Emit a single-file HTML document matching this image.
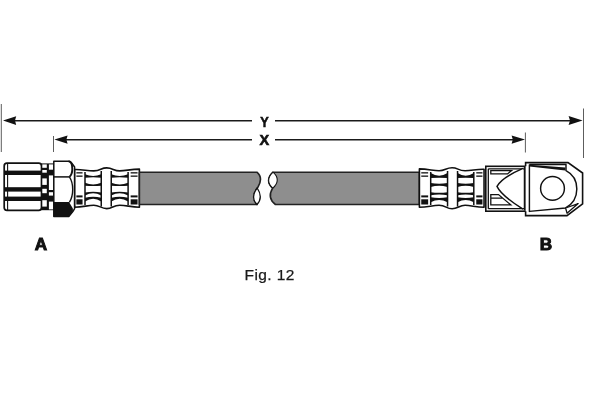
<!DOCTYPE html>
<html lang="en">
<head>
<meta charset="utf-8">
<title>Fig. 12</title>
<style>
html,body{margin:0;padding:0;background:#fff;}
body{width:600px;height:400px;overflow:hidden;font-family:"Liberation Sans",sans-serif;}
svg{display:block;}
</style>
</head>
<body>
<svg width="600" height="400" viewBox="0 0 600 400">
<rect width="600" height="400" fill="#fff"/>
<g stroke="#333" stroke-width="0.8" fill="none">
<line x1="1.3" y1="104" x2="1.3" y2="152"/>
<line x1="583.5" y1="108.5" x2="583.5" y2="158"/>
<line x1="53.5" y1="136" x2="53.5" y2="152"/>
<line x1="525.4" y1="132.5" x2="525.4" y2="152.5"/>
</g>
<g stroke="#1a1a1a" stroke-width="1.4" fill="none">
<line x1="14" y1="120.8" x2="252" y2="120.8"/>
<line x1="275" y1="120.8" x2="570" y2="120.8"/>
<line x1="66" y1="139.8" x2="252" y2="139.8"/>
<line x1="275" y1="139.8" x2="514" y2="139.8"/>
</g>
<g fill="#111">
<path d="M3,120.6 L16.2,116.3 L15,120.6 L16.2,124.9 Z"/>
<path d="M582.6,120.6 L568.6,116.1 L570,120.6 L568.6,125.1 Z"/>
<path d="M54.4,139.6 L67.6,135.4 L66.4,139.6 L67.6,143.8 Z"/>
<path d="M525,139.6 L511.6,135.4 L512.8,139.6 L511.6,143.8 Z"/>
</g>
<rect x="4.2" y="163.2" width="37.3" height="47.2" rx="2.8" ry="2.8" fill="#fff" stroke="#111" stroke-width="1.7"/>
<line x1="7.6" y1="164" x2="7.6" y2="210" stroke="#111" stroke-width="1.1"/>
<rect x="41" y="163.4" width="13" height="46.8" fill="#111"/>
<rect x="42.3" y="164.4" width="4.5" height="3.40" fill="#fff"/>
<rect x="42.3" y="170.0" width="4.5" height="2.70" fill="#fff"/>
<rect x="42.3" y="178.4" width="4.5" height="6.50" fill="#fff"/>
<rect x="42.3" y="188.8" width="4.5" height="4.40" fill="#fff"/>
<rect x="42.3" y="200.2" width="4.5" height="6.40" fill="#fff"/>
<rect x="48.9" y="164.4" width="4.4" height="5.30" fill="#fff"/>
<rect x="48.9" y="175.4" width="4.4" height="14.60" fill="#fff"/>
<rect x="48.9" y="192.2" width="4.4" height="3.40" fill="#fff"/>
<rect x="48.9" y="201.6" width="4.4" height="7.80" fill="#fff"/>
<rect x="4.6" y="170.6" width="37" height="4.40" fill="#111"/>
<rect x="4.6" y="187.2" width="37" height="4.40" fill="#111"/>
<rect x="4.6" y="196.6" width="37" height="4.40" fill="#111"/>
<path d="M53.8,161.3 L68.6,161.3 Q70.6,161.4 71.4,162.6 L74.6,167 L74.6,208.6 L72.8,211.6 L69,216.4 L53.8,216.4 Z" fill="#fff" stroke="#111" stroke-width="1.5" stroke-linejoin="round"/>
<path d="M53.8,176.9 L69.4,176.9" stroke="#111" stroke-width="1.5" fill="none"/>
<path d="M68.6,161.3 C71.5,161.6 72.3,165 72.3,169 C72.3,173 71,175.5 69.4,176.9" stroke="#111" stroke-width="1.9" fill="none"/>
<path d="M69.4,176.9 C71.5,180 72.7,185 72.7,189.5 C72.7,194 71.5,199 69.4,202.4" stroke="#111" stroke-width="1.4" fill="none"/>
<path d="M53.8,202 L69,202 L72.9,208.5 L72.9,211.6 L69,216.6 L53.8,216.6 Z" fill="#111"/>
<path d="M74.75,169.50 C82.75,169.30 86.75,170.90 93.75,170.90 S100.75,167.90 106.75,167.90 S113.75,170.90 119.75,170.90 S130.75,169.10 139.40,169.10 L139.40,207.20 C130.75,207.20 126.75,205.20 119.75,205.20 S112.75,208.60 106.75,208.60 S99.75,205.20 93.75,205.20 S82.75,207.20 74.75,207.20 Z" fill="#fff" stroke="#111" stroke-width="1.6" stroke-linejoin="round"/>
<rect x="76.35" y="172.2" width="6.20" height="1.3" fill="#111"/>
<rect x="76.35" y="175.5" width="6.20" height="1.3" fill="#111"/>
<rect x="76.35" y="195.4" width="6.20" height="2" fill="#111"/>
<rect x="76.35" y="199.3" width="6.20" height="5.2" fill="#111"/>
<rect x="130.65" y="172.2" width="6.90" height="1.3" fill="#111"/>
<rect x="130.65" y="175.5" width="6.90" height="1.3" fill="#111"/>
<rect x="130.65" y="195.4" width="6.90" height="2" fill="#111"/>
<rect x="130.65" y="199.3" width="6.90" height="5.2" fill="#111"/>
<line x1="85.00" y1="172" x2="85.00" y2="205" stroke="#111" stroke-width="1.5"/>
<line x1="101.25" y1="171" x2="101.25" y2="206.5" stroke="#111" stroke-width="1.5"/>
<line x1="111.25" y1="171" x2="111.25" y2="206.5" stroke="#111" stroke-width="1.5"/>
<line x1="128.10" y1="172" x2="128.10" y2="205" stroke="#111" stroke-width="1.5"/>
<path d="M85.00,174.20 Q93.12,177.60 101.25,174.20 L101.25,177.80 Q93.12,176.80 85.00,177.80 Z" fill="#111"/>
<path d="M85.00,182.70 Q93.12,186.20 101.25,182.70 L101.25,185.70 Q93.12,186.20 85.00,185.70 Z" fill="#111"/>
<path d="M85.00,192.60 Q93.12,191.10 101.25,192.60 L101.25,195.40 Q93.12,191.30 85.00,195.40 Z" fill="#111"/>
<path d="M85.00,197.80 Q93.12,195.90 101.25,197.80 L101.25,201.40 Q93.12,196.10 85.00,201.40 Z" fill="#111"/>
<path d="M111.25,174.20 Q119.67,177.60 128.10,174.20 L128.10,177.80 Q119.67,176.80 111.25,177.80 Z" fill="#111"/>
<path d="M111.25,182.70 Q119.67,186.20 128.10,182.70 L128.10,185.70 Q119.67,186.20 111.25,185.70 Z" fill="#111"/>
<path d="M111.25,192.60 Q119.67,191.10 128.10,192.60 L128.10,195.40 Q119.67,191.30 111.25,195.40 Z" fill="#111"/>
<path d="M111.25,197.80 Q119.67,195.90 128.10,197.80 L128.10,201.40 Q119.67,196.10 111.25,201.40 Z" fill="#111"/>
<path d="M139.4,172.2 L256.9,172.2 C261.5,176 261.5,181 258,187 C252.5,194 252,199 257,204.5 L139.4,204.5 Z" fill="#8e8e8e" stroke="#222" stroke-width="1.6" stroke-linejoin="round"/>
<path d="M257.2,188 C252.2,194.5 252,199.5 257,204.5 C261.6,199.5 261.2,194 257.2,188 Z" fill="#fff" stroke="#111" stroke-width="1.3"/>
<path d="M419.4,172.2 L273,172.2 C267,178 267.4,183 272.6,188.2 C269.2,194 269.4,200 275.4,204.5 L419.4,204.5 Z" fill="#8e8e8e" stroke="#222" stroke-width="1.6" stroke-linejoin="round"/>
<path d="M273,172.2 C267,178 267.4,183 272.8,188.2 C278.8,183 278.6,177 273,172.2 Z" fill="#fff" stroke="#111" stroke-width="1.1"/>
<path d="M484.05,169.30 C476.05,169.10 472.05,170.70 465.05,170.70 S458.05,167.70 452.05,167.70 S445.05,170.70 439.05,170.70 S428.05,168.90 419.40,168.90 L419.40,207.30 C428.05,207.30 432.05,205.30 439.05,205.30 S446.05,208.70 452.05,208.70 S459.05,205.30 465.05,205.30 S476.05,207.30 484.05,207.30 Z" fill="#fff" stroke="#111" stroke-width="1.6" stroke-linejoin="round"/>
<rect x="476.25" y="172.2" width="6.20" height="1.3" fill="#111"/>
<rect x="476.25" y="175.5" width="6.20" height="1.3" fill="#111"/>
<rect x="476.25" y="195.4" width="6.20" height="2" fill="#111"/>
<rect x="476.25" y="199.3" width="6.20" height="5.2" fill="#111"/>
<rect x="421.25" y="172.2" width="6.90" height="1.3" fill="#111"/>
<rect x="421.25" y="175.5" width="6.90" height="1.3" fill="#111"/>
<rect x="421.25" y="195.4" width="6.90" height="2" fill="#111"/>
<rect x="421.25" y="199.3" width="6.90" height="5.2" fill="#111"/>
<line x1="473.80" y1="172" x2="473.80" y2="205" stroke="#111" stroke-width="1.5"/>
<line x1="457.55" y1="171" x2="457.55" y2="206.5" stroke="#111" stroke-width="1.5"/>
<line x1="447.55" y1="171" x2="447.55" y2="206.5" stroke="#111" stroke-width="1.5"/>
<line x1="430.70" y1="172" x2="430.70" y2="205" stroke="#111" stroke-width="1.5"/>
<path d="M457.55,173.10 Q465.67,178.30 473.80,173.10 L473.80,178.10 Q465.67,177.30 457.55,178.10 Z" fill="#111"/>
<path d="M457.55,182.90 Q465.67,184.50 473.80,182.90 L473.80,187.10 Q465.67,184.30 457.55,187.10 Z" fill="#111"/>
<path d="M457.55,192.30 Q465.67,193.30 473.80,192.30 L473.80,195.30 Q465.67,193.50 457.55,195.30 Z" fill="#111"/>
<path d="M457.55,197.20 Q465.67,198.60 473.80,197.20 L473.80,202.20 Q465.67,198.00 457.55,202.20 Z" fill="#111"/>
<path d="M430.70,173.10 Q439.12,178.30 447.55,173.10 L447.55,178.10 Q439.12,177.30 430.70,178.10 Z" fill="#111"/>
<path d="M430.70,182.90 Q439.12,184.50 447.55,182.90 L447.55,187.10 Q439.12,184.30 430.70,187.10 Z" fill="#111"/>
<path d="M430.70,192.30 Q439.12,193.30 447.55,192.30 L447.55,195.30 Q439.12,193.50 430.70,195.30 Z" fill="#111"/>
<path d="M430.70,197.20 Q439.12,198.60 447.55,197.20 L447.55,202.20 Q439.12,198.00 430.70,202.20 Z" fill="#111"/>
<rect x="485.8" y="166.3" width="40" height="44.9" fill="#fff" stroke="#111" stroke-width="1.6"/>
<path d="M488.3,168.8 L524,168.8 M488.3,208.7 L524,208.7 M488.3,168.8 L488.3,208.7" fill="none" stroke="#111" stroke-width="1.3"/>
<path d="M490.8,170.6 L511.5,170.6 L507.5,173.9 L490.8,173.9 Z" fill="#fff" stroke="#111" stroke-width="1.3"/>
<path d="M490.8,194.6 L498.5,194.6 L510.8,204.9 L490.8,204.9 Z M490.8,198.2 L503,198.2" fill="#fff" stroke="#111" stroke-width="1.3"/>
<path d="M523,168.4 C510,174 500,181 497,186.4 C500,193 510,201 523,209.2" fill="#fff" stroke="#111" stroke-width="1.45"/>
<path d="M525.6,166.3 L525.6,162.6 L568,162.6 L582.6,173 L582.6,203.8 L567,215.6 L525.6,215.6 L525.6,211.2" fill="#fff" stroke="#111" stroke-width="1.6" stroke-linejoin="miter"/>
<line x1="524.4" y1="167" x2="524.4" y2="210.6" stroke="#111" stroke-width="1.3"/>
<path d="M529.4,164.6 L529.4,211.4 L565.6,208 C580.5,200 580.5,178 566,170.6 L566,164.4 L529.4,164.4" fill="#fff" stroke="#111" stroke-width="1.45" stroke-linejoin="round"/>
<path d="M529.4,164.8 L565.4,167.5 L565.4,170.6 L529.4,166.6 Z" fill="#111"/>
<path d="M565.6,208 L578.2,203.6 L567,213.2 Z" fill="#fff" stroke="#111" stroke-width="1.3" stroke-linejoin="round"/>
<circle cx="552.5" cy="188.4" r="11.9" fill="#fff" stroke="#111" stroke-width="1.45"/>
<g style="opacity:0.999">
<text transform="translate(264.4,126.5) scale(0.82,1)" x="0" y="0" text-anchor="middle" font-family="'Liberation Sans', sans-serif" font-weight="700" font-size="15.5" fill="#111" stroke="#111" stroke-width="0.6">Y</text>
<text transform="translate(264.4,144.6) scale(0.94,1)" x="0" y="0" text-anchor="middle" font-family="'Liberation Sans', sans-serif" font-weight="700" font-size="15.5" fill="#111" stroke="#111" stroke-width="0.6">X</text>
<text transform="translate(41,249.6) scale(1.1,1)" x="0" y="0" text-anchor="middle" font-family="'Liberation Sans', sans-serif" font-weight="700" font-size="15.6" fill="#111" stroke="#111" stroke-width="0.9">A</text>
<text transform="translate(546,250.2) scale(1.0,1)" x="0" y="0" text-anchor="middle" font-family="'Liberation Sans', sans-serif" font-weight="700" font-size="17.2" fill="#111" stroke="#111" stroke-width="1.0">B</text>
<text x="244.6" y="279.7" font-family="'Liberation Sans', sans-serif" font-size="15.5" letter-spacing="0.4" fill="#1a1a1a" stroke="#1a1a1a" stroke-width="0.25">Fig. 12</text>
</g>
</svg>
</body>
</html>
